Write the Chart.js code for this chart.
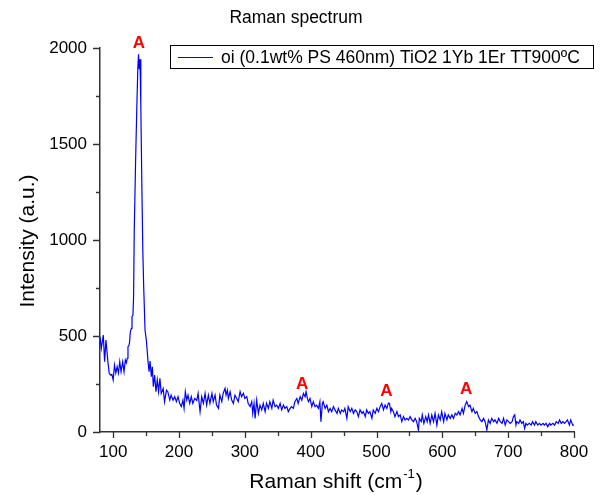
<!doctype html>
<html lang="en">
<head>
<meta charset="utf-8">
<title>Raman spectrum</title>
<script src="https://cdn.jsdelivr.net/npm/chart.js"></script>
<style>
  body { margin: 0; background: #fff; }
  canvas { display: block; }
</style>
</head>
<body>
<canvas id="raman" width="602" height="495"></canvas>
<script>
// Raman shift (cm-1) and intensity (a.u.)
const shift = [80, 82, 85, 87, 89, 92, 94, 96, 98, 100, 102, 104, 106, 108, 110, 112, 114.5, 116.5, 118.5, 120,
  121.5, 122.5, 124, 125, 126, 127.6, 128.6, 130, 131, 132, 134, 136, 137.5, 138.5, 139.5, 140.8, 142, 143.5, 145, 146.4,
  147, 148.4, 150.4, 153, 154.5, 156, 158, 159.5, 161, 163, 165, 167, 169, 171, 173, 176, 178, 181, 183, 186,
  188, 191, 193.5, 196, 198.5, 201, 203.5, 206, 207.7, 209.6, 211.8, 213.7, 216.3, 218.7, 221, 224, 227, 229, 232, 234.5,
  237, 239.6, 242, 244.6, 247, 250, 252, 254.8, 257, 260, 262, 265, 267, 270, 271.5, 273.5, 275, 277.6, 280, 282.6,
  285, 287.7, 290, 292.8, 295, 297.8, 300, 303, 305, 308, 310.5, 312, 314, 315.6, 318, 320.6, 323, 325.7, 328, 330.8,
  333, 335.8, 338, 341, 343, 346, 348.5, 351, 353.6, 356, 358.6, 361, 363.7, 366, 368.8, 371, 373.8, 376, 379, 381,
  384, 386.5, 389, 391.5, 393, 395, 396.6, 399, 401.7, 404, 406.7, 409, 411.8, 414, 415.6, 417.8, 419, 422, 424.6, 427,
  429.5, 432, 434.6, 437, 440, 442, 445, 447, 450, 452, 455, 457, 460, 462.5, 465, 467.6, 470, 472.5, 475, 478,
  480, 483, 485, 487.7, 490, 493, 495, 498, 500.5, 503, 505.5, 508, 510.6, 513, 515.7, 518, 519.7, 521.8, 523, 525.7,
  528, 531, 533.4, 536, 538.5, 541, 543.5, 546, 548.6, 551, 553.7, 556, 558.7, 561, 563.7, 565, 568, 569.5, 572, 574.8,
  577, 579, 581.5, 584, 586.6, 589, 591.7, 594, 596.8, 599, 602, 604, 607, 609, 612, 614.5, 617, 619.6, 622, 624.6,
  627, 630, 632, 634.7, 637, 640, 642, 645, 647, 650, 652.5, 655, 657.6, 660, 662.6, 665, 667.6, 670, 672.7, 675,
  678, 680, 683, 685.5, 688, 690.7, 693, 695.5, 698, 700.6, 703, 706, 708, 710, 711.8, 713, 716, 718, 720.7, 723,
  725, 727, 729, 732, 735, 737, 740, 742, 745, 747.5, 750, 753, 755, 757.6, 760, 763, 764.7, 768, 770.5, 773,
  776, 778, 780.7, 783, 785.5, 788, 790, 793, 795, 798, 800];
const intensity = [496, 436, 505, 366, 479, 366, 306, 297, 300, 271, 349, 307, 340, 307, 366, 314, 366, 314, 375, 360,
  384, 444, 450, 470, 520, 540, 600, 609, 700, 1040, 1400, 1700, 1900, 1967, 1890, 1941, 1700, 1300, 950, 750,
  687, 531, 479, 366, 314, 370, 288, 340, 236, 297, 210, 271, 210, 280, 201, 227, 158, 218, 210, 166,
  192, 166, 184, 158, 184, 149, 132, 166, 123, 210, 166, 192, 149, 184, 149, 175, 164, 201, 106, 184,
  149, 201, 140, 192, 149, 201, 158, 192, 140, 123, 192, 158, 201, 227, 192, 218, 175, 210, 166, 149,
  192, 175, 158, 210, 184, 201, 175, 184, 149, 132, 158, 97, 149, 71, 166, 97, 140, 115, 149, 106,
  149, 123, 158, 123, 166, 132, 140, 123, 149, 115, 140, 123, 132, 106, 123, 132, 123, 158, 175, 149,
  184, 166, 201, 184, 210, 175, 158, 175, 132, 158, 132, 140, 123, 158, 54, 149, 158, 123, 140, 106,
  123, 106, 132, 115, 97, 123, 97, 115, 106, 123, 71, 132, 106, 123, 97, 115, 106, 80, 115, 97,
  106, 80, 115, 97, 106, 71, 115, 97, 123, 106, 132, 149, 115, 140, 123, 150, 149, 106, 123, 106,
  80, 106, 80, 89, 54, 80, 63, 71, 63, 80, 63, 54, 71, 54, 10, 71, 54, 89, 45, 80,
  54, 89, 45, 89, 54, 97, 36, 89, 63, 106, 54, 97, 63, 89, 71, 89, 71, 97, 89, 106,
  89, 123, 97, 140, 158, 132, 140, 106, 123, 97, 106, 80, 63, 54, 71, 54, 10, 63, 45, 71,
  54, 63, 45, 71, 54, 45, 71, 36, 63, 54, 45, 54, 80, 89, 36, 54, 45, 63, 45, 54,
  19, 45, 36, 45, 36, 54, 36, 54, 36, 45, 36, 45, 36, 45, 28, 45, 36, 45, 36, 54,
  45, 63, 45, 54, 45, 54, 63, 36, 63, 36, 36];

// peak markers (anatase)
const peakLabels = ['A', 'A', 'A', 'A'];
const peakShift = [139, 387, 515, 636];
const peakLevel = [2025, 250, 213, 224];

const seriesName = 'oi (0.1wt% PS 460nm) TiO2 1Yb 1Er TT900\u00baC';
const FONT = '"Liberation Sans", Arial, sans-serif';

// draws tick marks, title, legend box, axis titles and the "A" markers
const decorations = {
  id: 'decorations',
  afterDraw(chart) {
    const ctx = chart.ctx;
    const xs = chart.scales.x, ys = chart.scales.y;
    const area = chart.chartArea;
    ctx.save();
    ctx.strokeStyle = '#333';
    ctx.lineWidth = 1.3;
    ctx.beginPath();
    xs.ticks.forEach(t => {
      if (t.value % 50 !== 0) return;
      const px = Math.round(xs.getPixelForValue(t.value)) + 0.5;
      const len = t.value % 100 === 0 ? 6 : 4;
      ctx.moveTo(px, area.bottom);
      ctx.lineTo(px, area.bottom + len);
    });
    ys.ticks.forEach(t => {
      if (t.value % 250 !== 0) return;
      const py = Math.round(ys.getPixelForValue(t.value)) + 0.5;
      const len = t.value % 500 === 0 ? 7 : 4;
      ctx.moveTo(area.left, py);
      ctx.lineTo(area.left - len, py);
    });
    ctx.stroke();

    ctx.fillStyle = '#000';
    // title
    ctx.font = '17.5px ' + FONT;
    ctx.textAlign = 'center';
    ctx.textBaseline = 'alphabetic';
    ctx.fillText('Raman spectrum', 296, 23);

    // legend
    ctx.lineWidth = 1;
    ctx.strokeStyle = '#000';
    ctx.strokeRect(170.5, 45.5, 423, 23);
    ctx.strokeStyle = chart.data.datasets[0].borderColor;
    ctx.lineWidth = 1.2;
    ctx.beginPath();
    ctx.moveTo(178, 57.5);
    ctx.lineTo(213, 57.5);
    ctx.stroke();
    ctx.textAlign = 'left';
    ctx.fillText(chart.data.datasets[0].label, 221, 63);

    // x axis title with superscript
    ctx.font = '21px ' + FONT;
    const base = 'Raman shift (cm';
    const w1 = ctx.measureText(base).width;
    ctx.font = '13px ' + FONT;
    const w2 = ctx.measureText('-1').width;
    ctx.font = '21px ' + FONT;
    const w3 = ctx.measureText(')').width;
    let x0 = 335 - (w1 + w2 + w3) / 2;
    ctx.fillText(base, x0, 488);
    ctx.font = '13px ' + FONT;
    ctx.fillText('-1', x0 + w1 + 1, 478);
    ctx.font = '21px ' + FONT;
    ctx.fillText(')', x0 + w1 + w2 + 2, 488);

    // y axis title
    ctx.save();
    ctx.translate(34, 241);
    ctx.rotate(-Math.PI / 2);
    ctx.textAlign = 'center';
    ctx.fillText('Intensity (a.u.)', 0, 0);
    ctx.restore();

    // peak markers
    ctx.fillStyle = '#ff0000';
    ctx.font = 'bold 17px ' + FONT;
    ctx.textAlign = 'center';
    ctx.textBaseline = 'middle';
    peakLabels.forEach((lbl, i) => {
      ctx.fillText(lbl, xs.getPixelForValue(peakShift[i]), ys.getPixelForValue(peakLevel[i]));
    });
    ctx.restore();
  }
};

new Chart(document.getElementById('raman'), {
  type: 'line',
  data: {
    datasets: [{
      label: seriesName,
      data: shift.map((s, i) => ({ x: s, y: intensity[i] })),
      borderColor: '#0000ff',
      borderWidth: 1.2,
      pointRadius: 0,
      tension: 0,
      fill: false
    }]
  },
  options: {
    responsive: false,
    animation: false,
    layout: { padding: { left: 40, top: 48, right: 28, bottom: 0 } },
    plugins: { legend: { display: false }, tooltip: { enabled: false } },
    scales: {
      x: {
        type: 'linear',
        min: 80,
        max: 800,
        grid: { display: false, drawTicks: false },
        border: { display: true, color: '#333', width: 1.5 },
        ticks: {
          stepSize: 50,
          includeBounds: false,
          autoSkip: false,
          maxRotation: 0,
          padding: 10,
          color: '#000',
          font: { family: FONT, size: 17 },
          callback: v => (v % 100 === 0 ? v : '')
        },
        afterFit: s => { s.height = 63; }
      },
      y: {
        min: 0,
        max: 2000,
        grid: { display: false, drawTicks: false },
        border: { display: true, color: '#333', width: 1.5 },
        ticks: {
          stepSize: 250,
          autoSkip: false,
          padding: 13,
          color: '#000',
          font: { family: FONT, size: 17 },
          callback: v => (v % 500 === 0 ? v : '')
        },
        afterFit: s => { s.width = 60; }
      }
    }
  },
  plugins: [decorations]
});
</script>
</body>
</html>
